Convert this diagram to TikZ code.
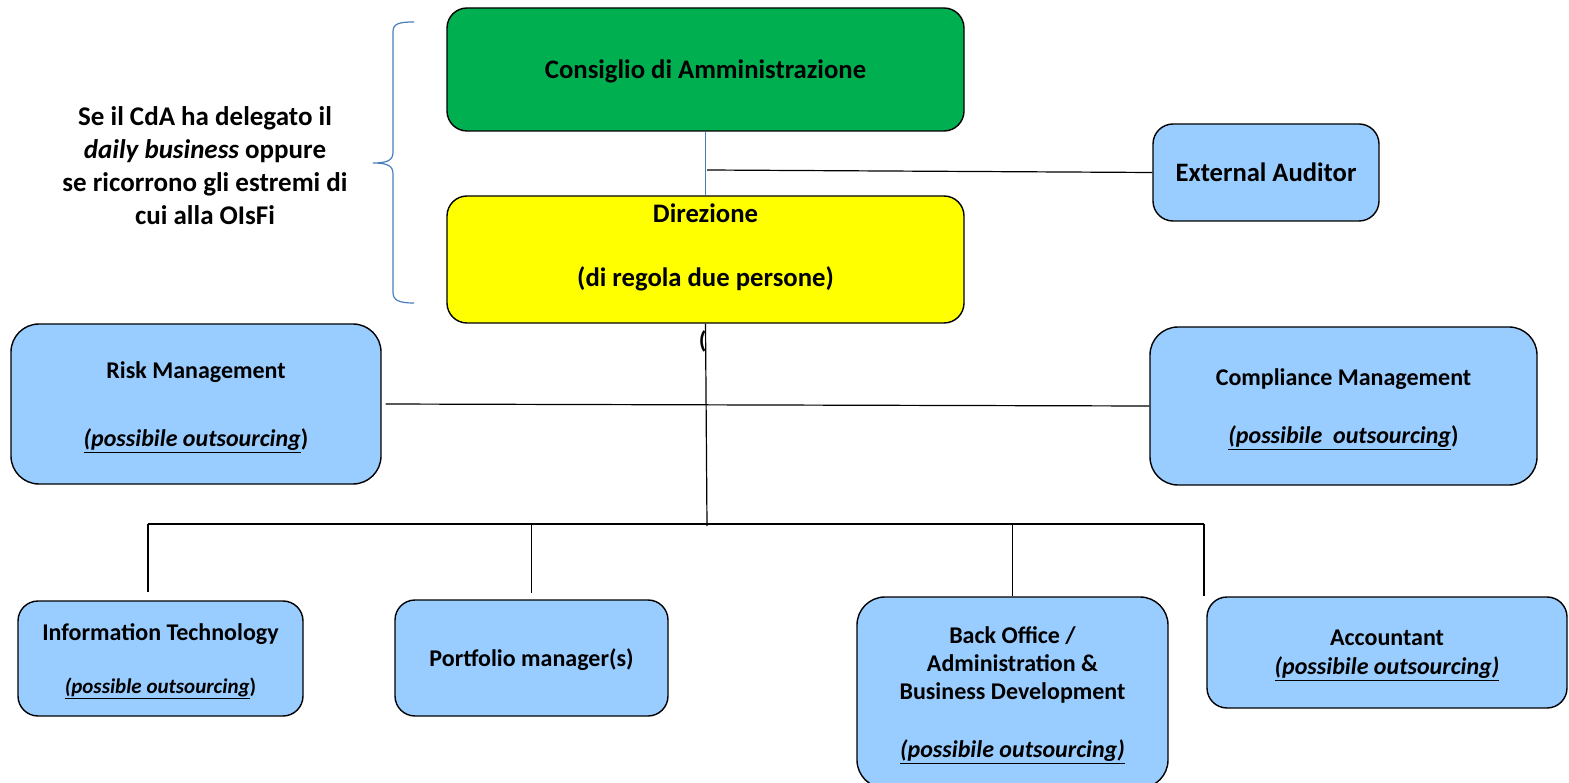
\documentclass[tikz,border=0pt]{standalone}
\usepackage{fontspec}
\setmainfont{Carlito}
\definecolor{cdagreen}{HTML}{00B050}
\definecolor{diryellow}{HTML}{FFFF00}
\definecolor{unitblue}{HTML}{99CCFF}
\definecolor{bracketblue}{HTML}{4A7EBB}
\newcommand{\outs}[1]{\underline{\textit{#1}}}

\begin{document}
\begin{tikzpicture}[x=1pt,y=-1pt,line width=1.2pt,
  box/.style={draw,line width=1.4pt,rounded corners=20pt,inner sep=0pt,text depth=0pt,align=center,font=\bfseries\fontsize{24}{29}\selectfont},
  unit/.style={box,fill=unitblue}]
\useasboundingbox (0,0) rectangle (1569,783);
% top level
\node[box,fill=cdagreen,minimum width=517pt,minimum height=123pt,font=\bfseries\fontsize{26.7}{32}\selectfont] (cda) at (705.5,69.5) {Consiglio di Amministrazione};
\node[box,fill=diryellow,minimum width=517pt,minimum height=127pt] (dir) at (705.5,259.5) {};
\node[align=center,inner sep=0pt,font=\bfseries\fontsize{26.7}{32}\selectfont] (dirtext) at (705.5,247) {Direzione\\[32pt](di regola due persone)};
\node[unit,minimum width=226pt,minimum height=97pt,font=\bfseries\fontsize{26.6}{32}\selectfont] (auditor) at (1266,172.5) {External Auditor};
\node[align=center,inner sep=0pt,font=\bfseries\fontsize{27}{33}\selectfont] (note) at (205,166) {Se il CdA ha delegato il\\\textit{daily business} oppure\\se ricorrono gli estremi di\\cui alla OIsFi};
\draw[bracketblue] (414,22) .. controls (398,22) and (393,24) .. (393,32) -- (393,152) .. controls (393,160) and (388,163) .. (373,163) .. controls (388,163) and (393,166) .. (393,174) -- (393,292) .. controls (393,300) and (398,303) .. (414,303);
% control functions
\node[unit,rounded corners=28pt,minimum width=370pt,minimum height=160pt,font=\bfseries\fontsize{24}{34}\selectfont] (risk) at (196,404) {Risk Management\\[34pt]\outs{(possibile outsourcing})};
\node[unit,rounded corners=28pt,minimum width=387pt,minimum height=158pt] (compliance) at (1343.5,406) {Compliance Management\\[29pt]\outs{(possibile\ \ outsourcing})};
% units
\node[unit,minimum width=285pt,minimum height=115pt,font=\bfseries\fontsize{24}{26.5}\selectfont] (it) at (160.5,658.5) {Information Technology\\[26.5pt]{\fontsize{21}{26.5}\selectfont\outs{(possible outsourcing})}};
\node[unit,minimum width=273pt,minimum height=116pt] (port) at (531.5,658) {Portfolio manager(s)};
\node[unit,rounded corners=28pt,minimum width=311pt,minimum height=191pt,font=\bfseries\fontsize{24}{28}\selectfont] (bo) at (1012.5,692.5) {Back Office /\\Administration \&\\Business Development\\[30pt]\outs{(possibile outsourcing)}};
\node[unit,minimum width=360pt,minimum height=111pt] (acc) at (1387,652.5) {Accountant\\\outs{(possibile outsourcing)}};
\node[anchor=east,inner sep=0pt,font=\bfseries\fontsize{24}{24}\selectfont] (paren) at (707,341) {(};
% connectors
\draw[bracketblue] (cda.south) -- (dir.north);
\coordinate (tap) at (707,170);
\draw (tap) -- (auditor.west);
\coordinate (hub) at (707,526);
\draw (dir.south) -- (hub);
\draw[shorten <=4pt] (risk.east) -- (compliance.west);
\coordinate (busL) at (148,524);
\coordinate (busR) at (1204,524);
\draw (busL) -- (busR);
\draw[shorten >=8pt] (busL) -- (busL |- it.north);
\draw[shorten >=6pt] (port.north |- busL) -- (port.north);
\draw (bo.north |- busL) -- (bo.north);
\draw (busR) -- (busR |- acc.north);
\end{tikzpicture}
\end{document}
